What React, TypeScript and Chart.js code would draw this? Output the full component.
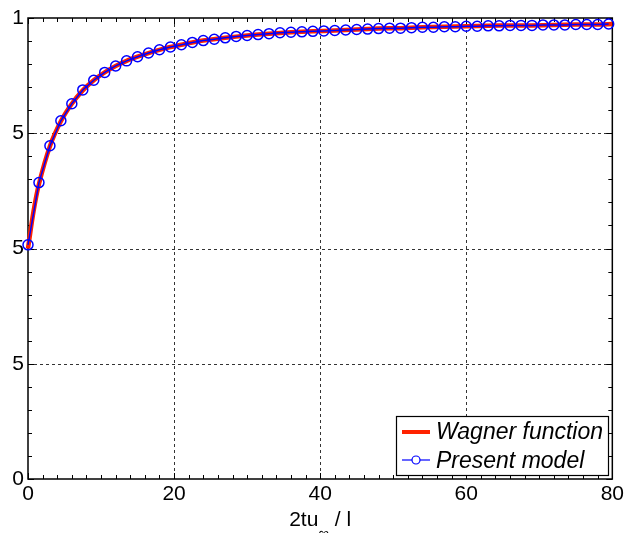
import React, { useEffect, useRef } from 'react';
import { Chart, registerables } from 'chart.js';

Chart.register(...registerables);

// ---- data ----
const modelX = [
  0, 1.5, 3, 4.5, 6, 7.5, 9, 10.5, 12, 13.5, 15, 16.5, 18, 19.5, 21, 22.5, 24, 25.5,
  27, 28.5, 30, 31.5, 33, 34.5, 36, 37.5, 39, 40.5, 42, 43.5, 45, 46.5, 48, 49.5,
  51, 52.5, 54, 55.5, 57, 58.5, 60, 61.5, 63, 64.5, 66, 67.5, 69, 70.5, 72, 73.5,
  75, 76.5, 78, 79.5,
];
const modelValues = [
  0.508, 0.643, 0.723, 0.777, 0.814, 0.844, 0.865, 0.882, 0.896, 0.907, 0.916, 0.924,
  0.931, 0.937, 0.942, 0.947, 0.951, 0.954, 0.957, 0.96, 0.962, 0.964, 0.966, 0.968,
  0.969, 0.97, 0.971, 0.972, 0.973, 0.974, 0.975, 0.976, 0.977, 0.978, 0.978, 0.979,
  0.98, 0.98, 0.981, 0.981, 0.982, 0.982, 0.983, 0.983, 0.984, 0.984, 0.984, 0.985,
  0.985, 0.985, 0.986, 0.986, 0.986, 0.987,
];
const wagnerX = [
  0, 0.75, 1.5, 3, 4.5, 6, 7.5, 9, 10.5, 12, 13.5, 15, 16.5, 18, 19.5, 21, 22.5, 24,
  27, 30, 33, 36, 39, 42, 45, 48, 51, 54, 57, 60, 63, 66, 69, 72, 75, 78, 80,
];
const wagnerValues = [
  0.5, 0.58, 0.64, 0.722, 0.776, 0.814, 0.843, 0.865, 0.882, 0.896, 0.907, 0.916,
  0.924, 0.931, 0.937, 0.942, 0.947, 0.951, 0.957, 0.962, 0.966, 0.969, 0.971, 0.973,
  0.975, 0.977, 0.978, 0.98, 0.981, 0.982, 0.983, 0.984, 0.984, 0.985, 0.986, 0.986,
  0.987,
];
const xTicks = [0, 20, 40, 60, 80];
const yTicks = [0, 0.25, 0.5, 0.75, 1];
const yTickLabels = ['0', '5', '5', '5', '1'];
const legendLabels = ['Wagner function', 'Present model'];
const xTitleParts = ['2tu', '∞', ' / l'];

const RED = '#ff2200';
const BLUE = '#0000ff';
const FONT = '"Liberation Sans", Arial, sans-serif';

const framePlugin = {
  id: 'frame',
  beforeDatasetsDraw(chart: any) {
    const { ctx, chartArea: a, scales } = chart;
    const xs = scales.x;
    const ys = scales.y;
    ctx.save();
    // dashed grid
    ctx.strokeStyle = '#000';
    ctx.lineWidth = 0.8;
    ctx.setLineDash([3, 3]);
    xTicks.slice(1, -1).forEach((v) => {
      const px = Math.round(xs.getPixelForValue(v)) + 0.5;
      ctx.beginPath();
      ctx.moveTo(px, a.top);
      ctx.lineTo(px, a.bottom);
      ctx.stroke();
    });
    yTicks.slice(1, -1).forEach((v) => {
      const py = Math.round(ys.getPixelForValue(v)) + 0.5;
      ctx.beginPath();
      ctx.moveTo(a.left, py);
      ctx.lineTo(a.right, py);
      ctx.stroke();
    });
    ctx.setLineDash([]);
    // minor ticks (inward, all sides)
    ctx.lineWidth = 1;
    ctx.strokeStyle = '#000';
    for (let v = 0; v <= 80; v += 2) {
      const px = Math.round(xs.getPixelForValue(v)) + 0.5;
      const len = v % 20 === 0 ? 6 : 4;
      ctx.beginPath();
      ctx.moveTo(px, a.bottom);
      ctx.lineTo(px, a.bottom - len);
      ctx.moveTo(px, a.top);
      ctx.lineTo(px, a.top + len);
      ctx.stroke();
    }
    for (let i = 0; i <= 20; i++) {
      const v = i * 0.05;
      const py = Math.round(ys.getPixelForValue(v)) + 0.5;
      const len = i % 5 === 0 ? 6 : 4;
      ctx.beginPath();
      ctx.moveTo(a.left, py);
      ctx.lineTo(a.left + len, py);
      ctx.moveTo(a.right, py);
      ctx.lineTo(a.right - len, py);
      ctx.stroke();
    }
    // box
    ctx.lineWidth = 1.5;
    ctx.strokeRect(a.left, a.top, a.right - a.left, a.bottom - a.top);
    ctx.restore();
  },
  afterDraw(chart: any) {
    const { ctx, chartArea: a } = chart;
    ctx.save();
    // legend
    const lx = 396;
    const ly = 416;
    const lw = 212;
    const lh = 59;
    ctx.fillStyle = '#fff';
    ctx.fillRect(lx, ly, lw, lh);
    ctx.strokeStyle = '#000';
    ctx.lineWidth = 1.2;
    ctx.strokeRect(lx + 0.5, ly + 0.5, lw, lh);
    // red sample
    ctx.strokeStyle = RED;
    ctx.lineWidth = 4;
    ctx.beginPath();
    ctx.moveTo(lx + 6, ly + 16);
    ctx.lineTo(lx + 34, ly + 16);
    ctx.stroke();
    // blue sample
    ctx.strokeStyle = BLUE;
    ctx.lineWidth = 1.2;
    ctx.beginPath();
    ctx.moveTo(lx + 6, ly + 44);
    ctx.lineTo(lx + 34, ly + 44);
    ctx.stroke();
    ctx.fillStyle = '#fff';
    ctx.beginPath();
    ctx.arc(lx + 20, ly + 44, 4, 0, Math.PI * 2);
    ctx.fill();
    ctx.stroke();
    ctx.fillStyle = '#000';
    ctx.font = `italic 23px ${FONT}`;
    ctx.textBaseline = 'alphabetic';
    ctx.textAlign = 'left';
    ctx.fillText(legendLabels[0], lx + 40, ly + 23);
    ctx.fillText(legendLabels[1], lx + 40, ly + 52);
    // x title
    ctx.font = `21px ${FONT}`;
    const w0 = ctx.measureText(xTitleParts[0]).width;
    ctx.font = `15px ${FONT}`;
    const w1 = ctx.measureText(xTitleParts[1]).width;
    ctx.font = `21px ${FONT}`;
    const w2 = ctx.measureText(xTitleParts[2]).width;
    const total = w0 + w1 + w2;
    let sx = (a.left + a.right) / 2 - total / 2;
    const base = 526;
    ctx.fillText(xTitleParts[0], sx, base);
    sx += w0;
    ctx.font = `15px ${FONT}`;
    ctx.fillText(xTitleParts[1], sx, base + 12);
    sx += w1;
    ctx.font = `21px ${FONT}`;
    ctx.fillText(xTitleParts[2], sx, base);
    ctx.restore();
  },
};

export default function App() {
  const ref = useRef<HTMLCanvasElement>(null);
  useEffect(() => {
    document.body.style.margin = '0';
    const canvas = ref.current;
    if (!canvas) return;
    const chart = new Chart(canvas, {
      type: 'line',
      data: {
        datasets: [
          {
            label: legendLabels[1],
            data: modelX.map((x, i) => ({ x, y: modelValues[i] })),
            borderColor: BLUE,
            borderWidth: 1.5,
            pointRadius: 5,
            pointBorderWidth: 1.5,
            pointBorderColor: BLUE,
            pointBackgroundColor: 'rgba(0,0,0,0)',
            tension: 0,
            clip: false as any,
            order: 0,
          },
          {
            label: legendLabels[0],
            data: wagnerX.map((x, i) => ({ x, y: wagnerValues[i] })),
            borderColor: RED,
            borderWidth: 4.5,
            pointRadius: 0,
            tension: 0.3,
            clip: false as any,
            order: 1,
          },
        ],
      },
      options: {
        animation: false,
        responsive: false,
        maintainAspectRatio: false,
        layout: { padding: { top: 18, right: 14, left: 0, bottom: 0 } },
        plugins: { legend: { display: false }, tooltip: { enabled: false } },
        scales: {
          x: {
            type: 'linear',
            min: 0,
            max: 80,
            afterBuildTicks: (s: any) => {
              s.ticks = xTicks.map((v) => ({ value: v }));
            },
            afterFit: (s: any) => {
              s.height = 54;
            },
            grid: { display: false, drawTicks: false },
            border: { display: false },
            ticks: {
              color: '#000',
              font: { family: FONT, size: 21 },
              padding: 3,
              maxRotation: 0,
              autoSkip: false,
            },
          },
          y: {
            type: 'linear',
            min: 0,
            max: 1,
            afterBuildTicks: (s: any) => {
              s.ticks = yTicks.map((v) => ({ value: v }));
            },
            afterFit: (s: any) => {
              s.width = 28;
            },
            grid: { display: false, drawTicks: false },
            border: { display: false },
            ticks: {
              color: '#000',
              font: { family: FONT, size: 21 },
              padding: 4,
              autoSkip: false,
              callback: (v: any) => {
                const i = yTicks.indexOf(Number(v));
                return i >= 0 ? yTickLabels[i] : '';
              },
            },
          },
        },
      },
      plugins: [framePlugin],
    });
    return () => chart.destroy();
  }, []);
  return (
    <div style={{ width: 627, height: 533, background: '#fff' }}>
      <canvas ref={ref} width={627} height={533} style={{ display: 'block' }} />
    </div>
  );
}
